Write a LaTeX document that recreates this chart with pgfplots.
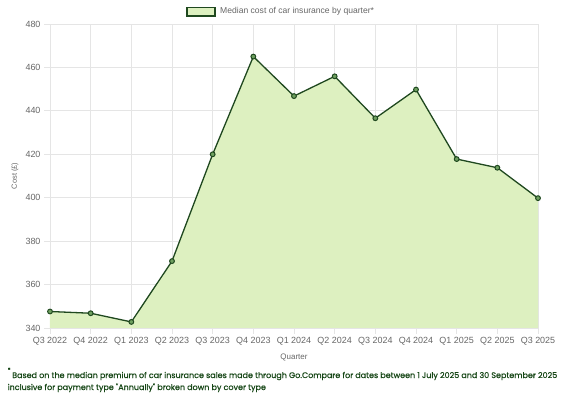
\documentclass[border=0pt]{standalone}
\usepackage{pgfplots}
\pgfplotsset{compat=1.18}
\usepackage{fontspec}
\setmainfont{Liberation Sans}
\newfontfamily\pop[FakeBold=0.7]{Poppins}
\definecolor{gridc}{RGB}{229,229,229}
\definecolor{txt}{RGB}{102,102,102}
\definecolor{fillc}{RGB}{221,240,192}
\definecolor{linec}{RGB}{31,72,31}
\definecolor{markc}{RGB}{110,160,95}
\definecolor{foot}{RGB}{22,70,22}
\begin{document}
\begin{tikzpicture}
\useasboundingbox (0,0) rectangle (582bp,409bp);
\begin{axis}[
  at={(50bp,81bp)}, anchor=south west,
  scale only axis, width=488bp, height=304bp,
  xmin=0, xmax=12, ymin=340, ymax=480,
  xtick={0,...,12},
  xticklabels={Q3 2022,Q4 2022,Q1 2023,Q2 2023,Q3 2023,Q4 2023,Q1 2024,Q2 2024,Q3 2024,Q4 2024,Q1 2025,Q2 2025,Q3 2025},
  ytick={340,360,...,480},
  grid=major, grid style={draw=gridc, line width=0.8bp},
  axis line style={draw=gridc, line width=0.8bp},
  tick style={draw=gridc, line width=0.8bp},
  major tick length=6bp, tick align=outside,
  xtick pos=bottom, ytick pos=left,
  ticklabel style={font=\fontsize{9}{10}\selectfont, text=txt},
  /pgf/number format/assume math mode=true,
  clip=false,
]
\addplot[draw=none, fill=fillc] coordinates {
(0,347.6) (1,346.8) (2,342.8) (3,370.8) (4,420) (5,465) (6,446.8) (7,455.9) (8,436.6) (9,449.8) (10,417.8) (11,413.8) (12,399.8)
} \closedcycle;
\addplot[color=linec, line width=1.3bp, mark=*, mark size=2.4bp, mark options={fill=markc, draw=linec, line width=1bp}] coordinates {
(0,347.6) (1,346.8) (2,342.8) (3,370.8) (4,420) (5,465) (6,446.8) (7,455.9) (8,436.6) (9,449.8) (10,417.8) (11,413.8) (12,399.8)
};
\end{axis}
% axis titles
\node[rotate=90, inner sep=0pt, text=txt, font=\fontsize{7.5}{9}\selectfont] at (15bp,233bp) {Cost (£)};
\node[inner sep=0pt, text=txt, font=\fontsize{8}{9}\selectfont] at (294bp,52bp) {Quarter};
% legend
\draw[draw=linec, fill=fillc, line width=1.2bp] (187bp,393bp) rectangle (215bp,401.5bp);
\node[anchor=west, inner sep=0pt, text=txt, font=\fontsize{8.6}{10}\selectfont] at (220bp,397.5bp) {Median cost of car insurance by quarter*};
% footnote
\node[anchor=base west, inner sep=0pt, text=foot, font=\pop\fontsize{8.03}{10}\selectfont] at (12bp,31bp) {Based on the median premium of car insurance sales made through Go.Compare for dates between 1 July 2025 and 30 September 2025};
\node[anchor=base west, inner sep=0pt, text=foot, font=\pop\fontsize{8.03}{10}\selectfont] at (7.5bp,19bp) {inclusive for payment type "Annually" broken down by cover type};
\node[anchor=base west, inner sep=0pt, text=foot, font=\pop\fontsize{6}{7}\selectfont] at (7.5bp,37bp) {*};
\end{tikzpicture}
\end{document}
